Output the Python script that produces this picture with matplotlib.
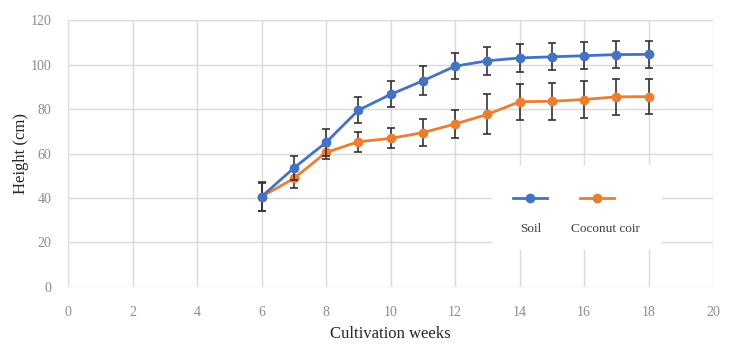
import numpy as np
import matplotlib.pyplot as plt
from matplotlib.patches import Rectangle

plt.rcParams['font.family'] = ['Liberation Serif', 'DejaVu Serif']

# data
weeks = [6, 7, 8, 9, 10, 11, 12, 13, 14, 15, 16, 17, 18]
soil = [40.6, 53.5, 65.0, 79.5, 86.6, 92.7, 99.3, 101.7, 103.0, 103.5, 104.0, 104.5, 104.6]
soil_err = [6.5, 5.5, 6.0, 5.8, 5.8, 6.5, 6.0, 6.3, 6.2, 6.0, 6.0, 6.0, 6.2]
coir = [40.6, 48.8, 60.5, 65.3, 66.8, 69.4, 73.3, 77.6, 83.3, 83.5, 84.3, 85.5, 85.6]
coir_err = [6.3, 4.5, 3.0, 4.5, 4.5, 6.0, 6.5, 9.0, 8.2, 8.2, 8.2, 8.0, 7.8]
xticks = list(range(0, 21, 2))
yticks = list(range(0, 121, 20))

blue = '#4472C4'
orange = '#ED7D31'
grid_c = '#d9d9d9'
tick_c = '#8c8c8c'

fig = plt.figure(figsize=(7.29, 3.47), dpi=100)
ax = fig.add_axes([0.0933, 0.173, 0.885, 0.769])

ax.errorbar(weeks, soil, yerr=soil_err, color=blue, marker='o', ms=6,
            lw=2, ecolor='#333333', elinewidth=1.2, capsize=3, capthick=1.2,
            zorder=4)
ax.errorbar(weeks, coir, yerr=coir_err, color=orange, marker='o', ms=6,
            lw=2, ecolor='#333333', elinewidth=1.2, capsize=3, capthick=1.2,
            zorder=3)

ax.set_xlim(0, 20)
ax.set_ylim(0, 120)
ax.set_xticks(xticks)
ax.set_yticks(yticks)
ax.grid(True, color=grid_c, lw=1)
ax.set_axisbelow(True)
for s in ax.spines.values():
    s.set_visible(False)
ax.tick_params(length=0, colors=tick_c, labelsize=10)
ax.tick_params(axis='x', pad=14)
ax.tick_params(axis='y', pad=12)
ax.set_xlabel('Cultivation weeks', fontsize=12, color='#262626', labelpad=5)
ax.set_ylabel('Height (cm)', fontsize=12, color='#262626', labelpad=1)

# legend: white box, handles on top, labels underneath
ax.add_patch(Rectangle((13.15, 16.6), 5.25, 38.2, facecolor='white',
                       edgecolor='none', zorder=5))
ax.plot([13.78, 14.85], [40, 40], color=blue, lw=2, zorder=6)
ax.plot([14.33], [40], color=blue, marker='o', ms=6, zorder=6)
ax.plot([15.88, 16.93], [40, 40], color=orange, lw=2, zorder=6)
ax.plot([16.4], [40], color=orange, marker='o', ms=6, zorder=6)
ax.text(14.36, 26, 'Soil', ha='center', va='center', fontsize=9.5,
        color='#404040', zorder=6)
ax.text(16.65, 26, 'Coconut coir', ha='center', va='center', fontsize=9.5,
        color='#404040', zorder=6)

fig.savefig('out.png', dpi=100)
